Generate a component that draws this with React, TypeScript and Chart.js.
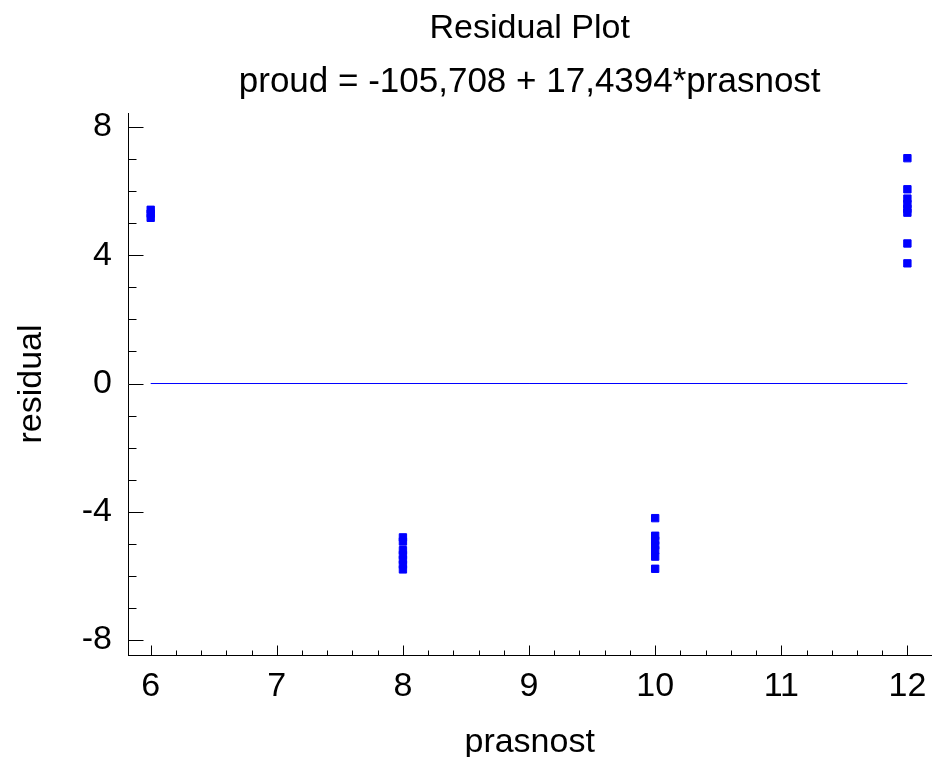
import React, { useEffect, useRef } from "react";
import { Chart, registerables } from "chart.js";

Chart.register(...registerables);

const titleText = "Residual Plot";
const subtitleText = "proud = -105,708 + 17,4394*prasnost";
const xAxisTitle = "prasnost";
const yAxisTitle = "residual";

const prasnostLevels = [6, 8, 10, 12];
const residuals6 = [5.17, 5.3, 5.42];
const residuals8 = [-4.8, -4.93, -5.2, -5.35, -5.5, -5.65, -5.8];
const residuals10 = [-4.2, -4.75, -4.9, -5.05, -5.2, -5.4, -5.78];
const residuals12 = [7.03, 6.06, 5.77, 5.6, 5.45, 5.33, 4.37, 3.75];
const residualGroups = [residuals6, residuals8, residuals10, residuals12];

const zeroLineX = [6, 12];
const zeroLineY = [0, 0];

const xTickValues = [6, 7, 8, 9, 10, 11, 12];
const yTickValues = [-8, -4, 0, 4, 8];
const xMinorPerMajor = 5;
const yMinorPerMajor = 4;
const xMin = 5.82;
const xMax = 12.19;
const yMin = -8.47;
const yMax = 8.44;

const FONT = "'Liberation Sans', Arial, Helvetica, sans-serif";

const innerTicks = {
  id: "innerTicks",
  afterDatasetsDraw(chart: any) {
    const { ctx, chartArea, scales } = chart;
    const xs = scales.x;
    const ys = scales.y;
    ctx.save();
    ctx.strokeStyle = "#000";
    ctx.lineWidth = 1;
    ctx.beginPath();
    const bottom = Math.round(chartArea.bottom) + 0.5;
    const x0 = xTickValues[0];
    const xStep = xTickValues[1] - xTickValues[0];
    const nx = (xTickValues.length - 1) * xMinorPerMajor;
    for (let k = 0; k <= nx; k++) {
      const v = x0 + (k * xStep) / xMinorPerMajor;
      const px = Math.round(xs.getPixelForValue(v)) + 0.5;
      const len = k % xMinorPerMajor === 0 ? 10 : 5;
      ctx.moveTo(px, bottom);
      ctx.lineTo(px, bottom - len);
    }
    const left = Math.round(chartArea.left) + 0.5;
    const y0 = yTickValues[0];
    const yStep = yTickValues[1] - yTickValues[0];
    const ny = (yTickValues.length - 1) * yMinorPerMajor;
    for (let k = 0; k <= ny; k++) {
      const v = y0 + (k * yStep) / yMinorPerMajor;
      const py = Math.round(ys.getPixelForValue(v)) + 0.5;
      const len = k % yMinorPerMajor === 0 ? 15 : 8;
      ctx.moveTo(left, py);
      ctx.lineTo(left + len, py);
    }
    ctx.stroke();
    ctx.restore();
  },
};

export default function App() {
  const canvasRef = useRef<HTMLCanvasElement | null>(null);

  useEffect(() => {
    document.body.style.margin = "0";
    const canvas = canvasRef.current;
    if (!canvas) return;

    const points: { x: number; y: number }[] = [];
    prasnostLevels.forEach((lvl, i) => {
      residualGroups[i].forEach((r) => points.push({ x: lvl, y: r }));
    });
    const zeroLine = zeroLineX.map((x, i) => ({ x, y: zeroLineY[i] }));

    const font = { family: FONT, size: 34, weight: "normal" as const };
    const subFont = { family: FONT, size: 35, weight: "normal" as const };

    const chart = new Chart(canvas, {
      type: "scatter",
      data: {
        datasets: [
          {
            type: "line",
            data: zeroLine,
            borderColor: "#0000ff",
            borderWidth: 1,
            pointRadius: 0,
            fill: false,
          } as any,
          {
            type: "scatter",
            data: points,
            pointStyle: "rect",
            pointRadius: 5.2,
            backgroundColor: "#0000ff",
            borderColor: "#0000ff",
            borderWidth: 1,
          } as any,
        ],
      },
      options: {
        responsive: false,
        animation: false,
        devicePixelRatio: 1,
        layout: { padding: 0 },
        plugins: {
          legend: { display: false },
          tooltip: { enabled: false },
          title: {
            display: true,
            text: titleText,
            fullSize: false,
            color: "#000",
            font,
            padding: { top: 7.9, bottom: 0 },
          },
          subtitle: {
            display: true,
            text: subtitleText,
            fullSize: false,
            color: "#000",
            font: subFont,
            padding: { top: 12.4, bottom: 9.9 },
          },
        },
        scales: {
          x: {
            type: "linear",
            position: "bottom",
            min: xMin,
            max: xMax,
            afterBuildTicks: (s: any) => {
              s.ticks = xTickValues.map((v) => ({ value: v }));
            },
            afterFit: (s: any) => {
              s.height = 102;
            },
            grid: { display: false, drawTicks: false },
            border: { display: true, color: "#000", width: 1 },
            ticks: {
              color: "#000",
              font,
              padding: 11.5,
              autoSkip: false,
              maxRotation: 0,
            },
            title: {
              display: true,
              text: xAxisTitle,
              color: "#000",
              font,
              padding: { top: 0, bottom: -5.6 },
            },
          },
          y: {
            type: "linear",
            position: "left",
            min: yMin,
            max: yMax,
            afterBuildTicks: (s: any) => {
              s.ticks = yTickValues.map((v) => ({ value: v }));
            },
            afterFit: (s: any) => {
              s.width = 128;
            },
            grid: { display: false, drawTicks: false },
            border: { display: true, color: "#000", width: 1 },
            ticks: { color: "#000", font, padding: 16 },
            title: {
              display: true,
              text: yAxisTitle,
              color: "#000",
              font,
              padding: { top: 11.5, bottom: 0 },
            },
          },
        },
      } as any,
      plugins: [innerTicks],
    });

    return () => chart.destroy();
  }, []);

  return (
    <canvas
      ref={canvasRef}
      width={938}
      height={757}
      style={{ display: "block", width: 938, height: 757 }}
    />
  );
}
